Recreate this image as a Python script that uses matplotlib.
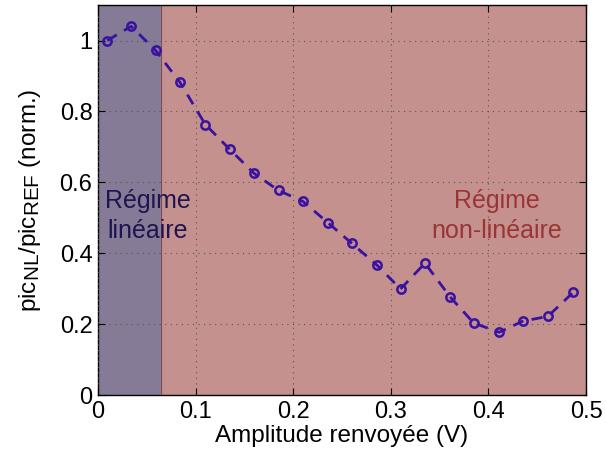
import matplotlib
matplotlib.use("Agg")
import matplotlib.pyplot as plt
import matplotlib._mathtext as mathtext_internal

plt.rcParams["font.family"] = ["Liberation Sans", "DejaVu Sans"]
plt.rcParams["mathtext.fontset"] = "custom"
plt.rcParams["mathtext.rm"] = "Liberation Sans"
plt.rcParams["mathtext.it"] = "Liberation Sans:italic"
# MATLAB-style subscripts are bigger than matplotlib's default
mathtext_internal.SHRINK_FACTOR = 0.85

# Data
amplitude = [0.0095, 0.034, 0.059, 0.084, 0.110, 0.135, 0.160, 0.185, 0.210, 0.236,
             0.260, 0.286, 0.310, 0.335, 0.361, 0.385, 0.411, 0.435, 0.461, 0.487]
pic_ratio = [1.000, 1.040, 0.972, 0.882, 0.763, 0.693, 0.625, 0.577, 0.546, 0.485,
             0.428, 0.366, 0.299, 0.372, 0.276, 0.203, 0.177, 0.208, 0.222, 0.290]
linear_limit = 0.065
x_ticks = [0, 0.1, 0.2, 0.3, 0.4, 0.5]
y_ticks = [0, 0.2, 0.4, 0.6, 0.8, 1]

fig = plt.figure(figsize=(6.06, 4.59), dpi=100)
ax = fig.add_axes([0.1617, 0.1394, 0.8053, 0.8496])

ax.axvspan(0, linear_limit, color="#857b96", zorder=0)
ax.axvspan(linear_limit, 0.5, color="#c4918f", zorder=0)
ax.axvline(linear_limit, color="#7a4a55", lw=0.8, zorder=1)

ax.plot(amplitude, pic_ratio, "--o", color="#3a12a0", lw=2, ms=6,
        mfc="none", mew=1.8, dashes=(4, 3), zorder=3)

ax.text(0.051, 0.504, "Régime\nlinéaire", color="#1e1450", fontsize=18,
        ha="center", va="center", linespacing=1.3)
ax.text(0.409, 0.504, "Régime\nnon-linéaire", color="#9a3535", fontsize=18,
        ha="center", va="center", linespacing=1.3)

ax.set_xlim(0, 0.5)
ax.set_ylim(0, 1.1)
ax.set_xticks(x_ticks)
ax.set_xticklabels(["0", "0.1", "0.2", "0.3", "0.4", "0.5"])
ax.set_yticks(y_ticks)
ax.set_yticklabels(["0", "0.2", "0.4", "0.6", "0.8", "1"])
ax.tick_params(direction="in", top=True, right=True, labelsize=17, length=5, pad=4)
ax.grid(True, linestyle=(0, (1, 4)), color="#555555", lw=0.8)
ax.set_axisbelow(False)

ax.set_xlabel("Amplitude renvoyée (V)", fontsize=17.5, labelpad=2)
ax.set_ylabel(r"pic$_{\mathrm{NL}}$/pic$_{\mathrm{REF}}$ (norm.)", fontsize=17.5, labelpad=12)

for s in ax.spines.values():
    s.set_linewidth(1.0)

fig.savefig("out.png", dpi=100)
